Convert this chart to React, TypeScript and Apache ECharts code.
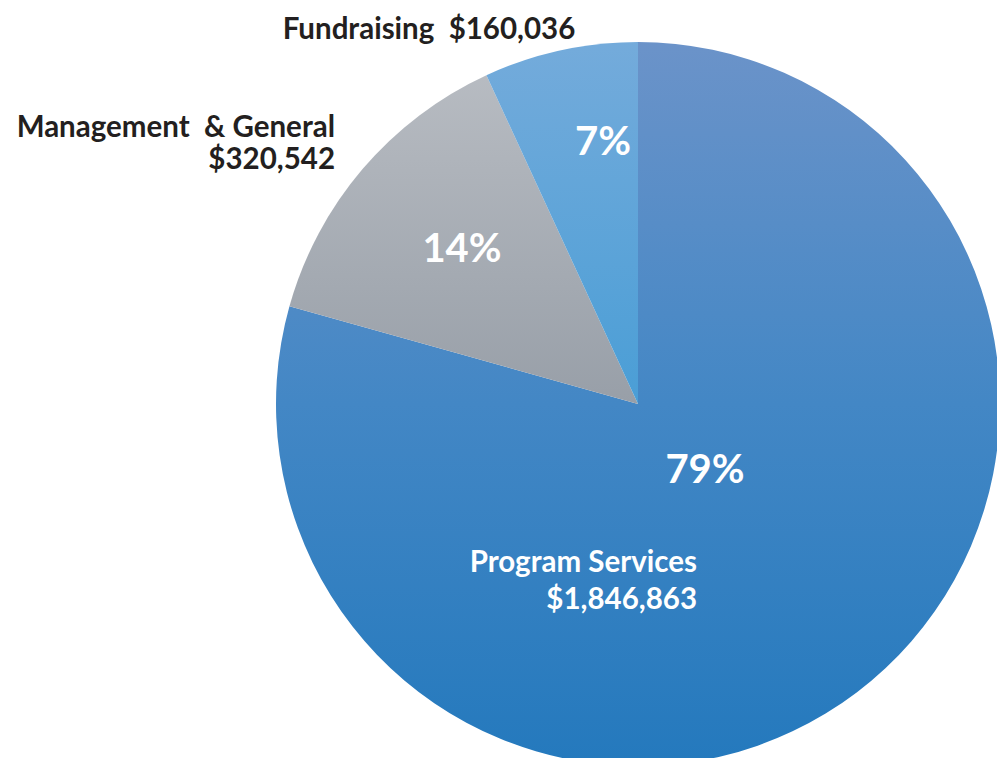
import React, { useEffect, useRef } from "react";
import * as echarts from "echarts";

const categories = ["Program Services", "Management  & General", "Fundraising"];
const amounts = [1846863, 320542, 160036];
const nameColors = ["#ffffff", "#231f20", "#231f20"];
const splitLine = [true, true, false];

const W = 997;
const H = 758;
const CX = 638;
const CY = 404;
const R = 362;

const pctPos = [
  [705, 468],
  [462, 247],
  [603, 140],
];
const namePos = [
  { x: 697, y: 579, align: "right", lh: 37 },
  { x: 335, y: 141, align: "right", lh: 32 },
  { x: 429, y: 27, align: "center", lh: 32 },
];

const fmt = (v: number) => "$" + v.toLocaleString("en-US");

function grad(c0: string, cMid: string, c1: string) {
  return new echarts.graphic.LinearGradient(
    0,
    CY - R,
    0,
    CY + R,
    [
      { offset: 0, color: c0 },
      { offset: 0.5, color: cMid },
      { offset: 1, color: c1 },
    ],
    true
  );
}

export default function App() {
  const ref = useRef<HTMLDivElement>(null);
  useEffect(() => {
    if (!ref.current) return;
    const chart = echarts.init(ref.current, undefined, { renderer: "svg" });
    const fills = [
      grad("#6b93c9", "#4387c5", "#2479bd"),
      grad("#babec4", "#989fa8", "#868e98"),
      grad("#74abdb", "#4a9ed6", "#2890cf"),
    ];
    const font = "Lato, 'Open Sans', sans-serif";
    chart.setOption({
      animation: false,
      backgroundColor: "#ffffff",
      series: [
        {
          type: "pie",
          center: [CX, CY],
          radius: [0, R],
          startAngle: 90,
          clockwise: true,
          silent: true,
          labelLine: { show: false },
          label: {
            show: true,
            position: "inside",
            color: "#ffffff",
            fontFamily: font,
            fontWeight: "bold",
            fontSize: 40,
            formatter: (p: any) => Math.round(p.percent) + "%",
          },
          labelLayout: (p: any) => ({
            x: pctPos[p.dataIndex][0],
            y: pctPos[p.dataIndex][1],
            align: "center",
            verticalAlign: "middle",
          }),
          data: categories.map((n, i) => ({
            name: n,
            value: amounts[i],
            itemStyle: { color: fills[i] },
          })),
        },
        {
          type: "pie",
          center: [CX, CY],
          radius: [0, R],
          startAngle: 90,
          clockwise: true,
          silent: true,
          z: 3,
          labelLine: { show: false },
          itemStyle: { color: "rgba(0,0,0,0)" },
          label: {
            show: true,
            position: "inside",
            fontFamily: font,
            fontWeight: "bold",
            fontSize: 29.5,
            formatter: (p: any) =>
              p.name + (splitLine[p.dataIndex] ? "\n" : "  ") + fmt(p.value),
          },
          labelLayout: (p: any) => ({
            x: namePos[p.dataIndex].x,
            y: namePos[p.dataIndex].y,
            align: namePos[p.dataIndex].align,
            verticalAlign: "middle",
          }),
          data: categories.map((n, i) => ({
            name: n,
            value: amounts[i],
            label: {
              color: nameColors[i],
              align: namePos[i].align,
              lineHeight: namePos[i].lh,
            },
          })),
        },
      ],
    });
    return () => chart.dispose();
  }, []);
  return (
    <div
      ref={ref}
      style={{ position: "fixed", left: 0, top: 0, width: W, height: H }}
    />
  );
}
